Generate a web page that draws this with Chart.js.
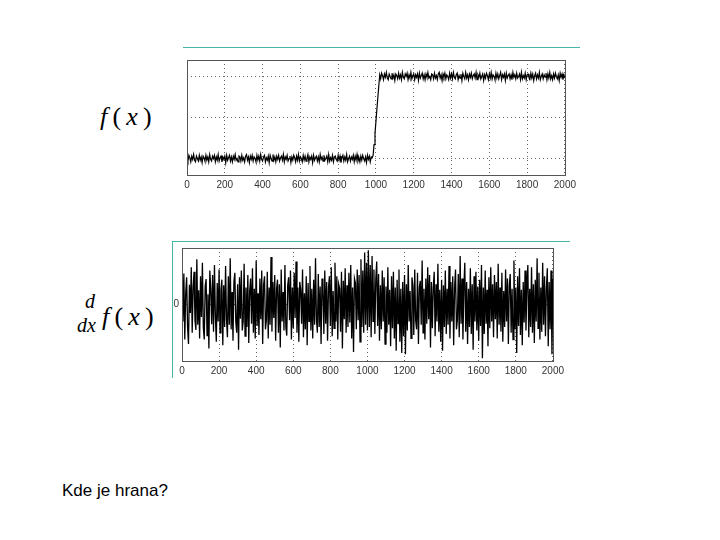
<!DOCTYPE html>
<html>
<head>
<meta charset="utf-8">
<script src="https://cdn.jsdelivr.net/npm/chart.js@4"></script>
<style>
  body { margin: 0; width: 720px; height: 540px; background: #fff; position: relative; overflow: hidden;
         font-family: "Liberation Sans", Arial, sans-serif; }
  .box { position: absolute; }
  .rule { position: absolute; background: #45b5a8; }
  .math { position: absolute; font-family: "Liberation Serif", serif; color: #000; white-space: nowrap; }
</style>
</head>
<body>
<div class="rule" style="left:183px;top:47px;width:397px;height:1px"></div>
<div class="rule" style="left:172px;top:241px;width:398px;height:1px"></div>
<div class="rule" style="left:172px;top:241px;width:1px;height:137px"></div>

<div class="math" style="left:100px;top:102px;font-size:26px"><i>f</i>&thinsp;(&thinsp;<i>x</i>&thinsp;)</div>
<div class="math" style="left:85px;top:290px;font-size:20px"><i>d</i></div>
<div class="math" style="left:77px;top:314px;font-size:20px"><i>dx</i></div>
<div class="math" style="left:102px;top:302px;font-size:26px"><i>f</i>&thinsp;(&thinsp;<i>x</i>&thinsp;)</div>

<div class="box" style="left:177px;top:55px;width:403px;height:150px"><canvas id="c1"></canvas></div>
<div class="box" style="left:162px;top:239px;width:406px;height:144px"><canvas id="c2"></canvas></div>

<div style="position:absolute;left:62px;top:481px;font-size:17px;color:#000">Kde je hrana?</div>

<script>
// x ticks shared by both plots
const xTicks = [0, 200, 400, 600, 800, 1000, 1200, 1400, 1600, 1800, 2000];
const topYTicks = [0, 0.5, 1];
const bottomYTicks = [0];

// f(x): noisy step, sampled every 5 (low part 0..980, ramp 985..1015, high part 1020..2000)
const fxStep = 5;
const fxLow = [
  0.02,-0.03,0.04,0.01,-0.04,0.03,-0.01,0.05,-0.02,-0.04,0.03,0.00,-0.03,0.04,-0.02,0.02,-0.05,0.03,0.01,-0.03,
  0.04,-0.02,0.02,-0.04,0.05,-0.01,-0.03,0.03,0.00,0.04,-0.04,0.02,-0.02,0.05,-0.03,0.01,0.03,-0.04,0.02,-0.01,
  0.03,-0.05,0.04,-0.02,0.01,0.04,-0.03,0.02,-0.04,0.03,-0.01,0.05,-0.02,0.00,-0.04,0.03,0.02,-0.03,0.04,-0.02,
  0.01,-0.04,0.03,0.05,-0.02,0.02,-0.05,0.03,-0.01,0.04,-0.03,0.02,0.00,-0.04,0.04,-0.02,0.03,-0.03,0.05,-0.01,
  -0.03,0.02,0.04,-0.04,0.01,-0.02,0.03,-0.05,0.04,0.00,-0.03,0.05,-0.02,0.02,-0.04,0.03,-0.01,0.04,-0.03,0.01,
  0.03,-0.02,0.05,-0.04,0.02,-0.01,0.04,-0.03,0.00,0.03,-0.05,0.02,-0.02,0.04,0.01,-0.04,0.03,-0.02,0.05,-0.03,
  0.02,0.00,-0.04,0.04,-0.02,0.03,-0.03,0.01,0.05,-0.04,0.02,-0.01,0.03,-0.05,0.04,-0.02,0.01,0.03,-0.03,0.02,
  -0.04,0.05,-0.01,0.02,-0.03,0.04,-0.02,0.00,0.03,-0.04,0.05,-0.03,0.01,-0.02,0.04,-0.04,0.02,0.03,-0.01,-0.03,
  0.04,-0.02,0.03,-0.05,0.01,0.04,-0.03,0.02,-0.02,0.05,-0.04,0.00,0.03,-0.03,0.02,-0.01,0.04,-0.04,0.03,-0.02,
  0.05,-0.03,0.01,-0.04,0.03,-0.02,0.04,0.00,-0.03,0.02,-0.05,0.04,-0.01,0.03,-0.04,0.02,0.01
];
const fxRamp = [0.04, 0.17, 0.31, 0.45, 0.6, 0.74, 0.88];
const fxHigh = [
  1.02,0.97,1.04,1.01,0.96,1.03,0.99,1.05,0.98,0.96,1.03,1.00,0.97,1.04,0.98,1.02,0.95,1.03,1.01,0.97,
  1.04,0.98,1.02,0.96,1.05,0.99,0.97,1.03,1.00,1.04,0.96,1.02,0.98,1.05,0.97,1.01,1.03,0.96,1.02,0.99,
  1.03,0.95,1.04,0.98,1.01,1.04,0.97,1.02,0.96,1.03,0.99,1.05,0.98,1.00,0.96,1.03,1.02,0.97,1.04,0.98,
  1.01,0.96,1.03,1.05,0.98,1.02,0.95,1.03,0.99,1.04,0.97,1.02,1.00,0.96,1.04,0.98,1.03,0.97,1.05,0.99,
  0.97,1.02,1.04,0.96,1.01,0.98,1.03,0.95,1.04,1.00,0.97,1.05,0.98,1.02,0.96,1.03,0.99,1.04,0.97,1.01,
  1.03,0.98,1.05,0.96,1.02,0.99,1.04,0.97,1.00,1.03,0.95,1.02,0.98,1.04,1.01,0.96,1.03,0.98,1.05,0.97,
  1.02,1.00,0.96,1.04,0.98,1.03,0.97,1.01,1.05,0.96,1.02,0.99,1.03,0.95,1.04,0.98,1.01,1.03,0.97,1.02,
  0.96,1.05,0.99,1.02,0.97,1.04,0.98,1.00,1.03,0.96,1.05,0.97,1.01,0.98,1.04,0.96,1.02,1.03,0.99,0.97,
  1.04,0.98,1.03,0.95,1.01,1.04,0.97,1.02,0.98,1.05,0.96,1.00,1.03,0.97,1.02,0.99,1.04,0.96,1.03,0.98,
  1.05,0.97,1.01,0.96,1.03,0.98,1.04,1.00,0.97,1.02,0.95,1.04,0.99,1.03,0.96,1.02,0.98
];

// d/dx f(x): sampled every 5
const dfStep = 5;
const dfValues = [
  0.42,-0.3,0.55,-0.62,0.2,0.48,-0.4,-0.7,0.35,-0.15,0.66,-0.5,0.3,0.58,-0.28,-0.45,0.8,-0.36,0.25,-0.6,
  0.5,-0.22,0.74,-0.4,-0.62,0.32,0.45,-0.55,0.18,-0.78,0.6,0.28,-0.35,0.52,-0.48,0.7,-0.2,-0.66,0.38,-0.3,
  0.62,-0.5,0.26,0.44,-0.72,0.34,-0.4,0.68,-0.26,-0.58,0.5,-0.36,0.82,-0.44,0.22,-0.64,0.4,0.56,-0.3,-0.5,
  0.36,-0.8,0.48,-0.25,0.6,-0.46,-0.3,0.72,-0.56,0.3,-0.4,0.52,-0.68,0.24,0.46,-0.34,0.64,-0.5,0.28,-0.6,
  0.78,-0.38,0.2,-0.54,0.46,-0.26,0.6,-0.7,0.34,0.5,-0.44,-0.28,0.58,-0.6,0.3,-0.36,0.84,-0.48,0.4,-0.24,
  0.52,-0.64,0.28,0.44,-0.5,0.36,-0.76,0.62,-0.3,0.22,-0.46,0.7,-0.4,-0.55,0.34,0.48,-0.28,0.6,-0.62,0.3,
  -0.42,0.56,-0.24,0.76,-0.5,0.3,-0.66,0.4,0.26,-0.34,0.62,-0.58,0.2,-0.44,0.5,-0.72,0.38,-0.3,0.68,-0.46,
  0.28,-0.6,0.44,-0.36,0.82,-0.26,-0.5,0.54,-0.4,0.32,-0.7,0.46,0.24,-0.52,0.6,-0.34,0.4,-0.64,0.3,0.5,
  -0.38,0.66,-0.56,0.24,-0.42,0.74,-0.3,0.5,-0.62,0.36,0.28,-0.48,0.58,-0.78,0.42,-0.26,0.64,-0.5,0.34,-0.4,
  0.56,-0.32,0.7,-0.6,0.3,-0.84,0.46,0.38,-0.44,0.62,-0.28,0.52,-0.66,0.8,-0.4,0.6,-0.5,0.92,-0.36,0.74,
  -0.46,0.96,-0.4,0.7,-0.58,0.86,-0.3,0.62,-0.52,0.44,0.76,-0.38,0.54,-0.64,0.34,-0.44,0.6,-0.3,0.48,-0.7,
  0.32,-0.5,0.66,-0.36,0.26,-0.74,0.5,-0.42,0.58,-0.6,0.3,-0.82,0.44,-0.34,0.62,-0.66,0.28,-0.86,0.4,-0.56,
  0.52,-0.88,0.36,-0.46,0.7,-0.3,0.24,-0.6,0.48,0.34,-0.54,0.62,-0.28,-0.44,0.56,-0.7,0.3,0.42,-0.36,0.78,
  -0.5,0.28,-0.62,0.46,-0.34,0.66,-0.26,0.52,-0.76,0.4,-0.42,0.3,0.58,-0.56,0.36,-0.3,0.72,-0.48,0.26,-0.66,
  0.44,-0.82,0.34,-0.4,0.6,-0.52,0.28,-0.36,0.68,-0.6,0.4,-0.3,0.5,-0.72,0.3,0.62,-0.44,-0.28,0.54,-0.58,
  0.86,-0.34,0.46,-0.62,0.3,0.74,-0.48,0.4,-0.7,0.28,-0.4,0.64,-0.52,0.36,-0.8,0.5,-0.3,0.58,-0.46,0.32,
  -0.64,0.44,-0.38,0.7,-0.95,0.3,-0.52,0.6,-0.34,0.26,-0.74,0.48,-0.42,0.66,-0.3,0.36,-0.58,0.52,-0.26,0.4,
  -0.6,0.72,-0.36,0.3,-0.48,0.56,-0.66,0.24,-0.4,0.62,-0.3,0.46,-0.7,0.34,0.54,-0.5,0.28,-0.62,0.78,-0.44,
  0.3,-0.86,0.5,-0.38,0.64,-0.54,0.26,-0.72,0.4,-0.32,0.6,-0.46,0.34,0.7,-0.58,0.28,-0.4,0.66,-0.5,0.36,
  -0.68,0.44,-0.3,0.82,-0.42,0.56,-0.62,0.3,-0.48,0.74,-0.36,0.5,-0.56,0.28,0.64,-0.74,0.4,-0.44,0.6,-0.88,
  0.46
];

const fxValues = [...fxLow, ...fxRamp, ...fxHigh];
const fxPoints = fxValues.map((v, i) => ({ x: i * fxStep, y: v }));
const dfPoints = dfValues.map((v, i) => ({ x: i * dfStep, y: v }));

const frame = {
  id: 'frame',
  afterDraw(chart) {
    const a = chart.chartArea, c = chart.ctx;
    c.save();
    c.strokeStyle = '#555';
    c.lineWidth = 1;
    c.strokeRect(Math.round(a.left) + 0.5, Math.round(a.top) + 0.5,
                 Math.round(a.right - a.left), Math.round(a.bottom - a.top));
    c.restore();
  }
};

const tickFont = { family: '"Liberation Sans", Arial, sans-serif', size: 10 };
const dotted = { color: '#666', lineWidth: 1, drawTicks: false };

function makeChart(el, points, lineW, yMin, yMax, yTicks, showYLabels, yWidth, xHeight, pad) {
  return new Chart(el, {
    type: 'line',
    data: {
      datasets: [{
        data: points,
        borderColor: '#000',
        borderWidth: lineW,
        pointRadius: 0,
        tension: 0
      }]
    },
    options: {
      responsive: true,
      maintainAspectRatio: false,
      animation: false,
      layout: { padding: pad },
      scales: {
        x: {
          type: 'linear', min: 0, max: 2000,
          afterBuildTicks: s => { s.ticks = xTicks.map(v => ({ value: v })); },
          afterFit: s => { s.height = xHeight; },
          ticks: { color: '#333', font: tickFont, padding: 4, maxRotation: 0, callback: v => String(v) },
          grid: dotted,
          border: { display: false, dash: [1, 3] }
        },
        y: {
          min: yMin, max: yMax,
          afterBuildTicks: s => { s.ticks = yTicks.map(v => ({ value: v })); },
          afterFit: s => { s.width = yWidth; },
          ticks: { display: showYLabels, color: '#333', font: tickFont, padding: 3, callback: v => String(v) },
          grid: dotted,
          border: { display: false, dash: [1, 3] }
        }
      },
      plugins: { legend: { display: false }, tooltip: { enabled: false } }
    },
    plugins: [frame]
  });
}

makeChart(document.getElementById('c1'), fxPoints, 1.2, -0.2, 1.2, topYTicks, false, 10, 30,
  { top: 5, right: 12, left: 0, bottom: 0 });
makeChart(document.getElementById('c2'), dfPoints, 1.3, -1, 1, bottomYTicks, true, 20, 22,
  { top: 5, right: 9, left: 0, bottom: 0 });
</script>
</body>
</html>
